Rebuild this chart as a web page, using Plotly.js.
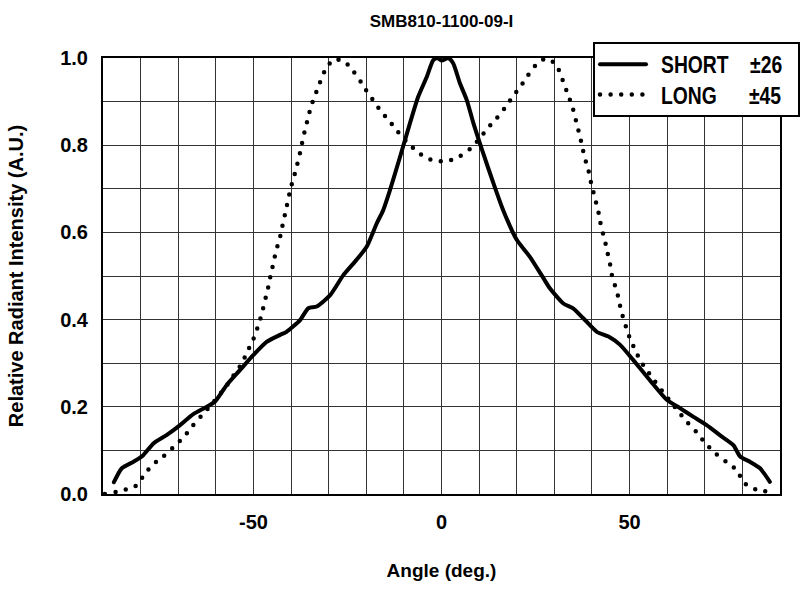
<!DOCTYPE html>
<html>
<head>
<meta charset="utf-8">
<script src="https://cdn.plot.ly/plotly-3.0.1.min.js"></script>
<style>html,body{margin:0;padding:0;background:#fff;}#chart{width:811px;height:592px;}</style>
</head>
<body>
<div id="chart"></div>
<script>
const chartTitle = "SMB810-1100-09-I";
const xTitle = "Angle (deg.)";
const yTitle = "Relative Radiant Intensity (A.U.)";
const seriesNames = ["SHORT\u00a0\u00a0\u00a0\u00a0\u00b126", "LONG\u00a0\u00a0\u00a0\u00a0\u00a0\u00a0\u00b145"];

const shortAngle = [-87.1,-85.0,-81.9,-79.3,-76.6,-73.1,-69.5,-66.0,-62.4,-60.2,-57.1,-53.6,-50.0,-46.5,-42.9,-41.2,-37.6,-35.4,-33.2,-29.6,-26.1,-22.6,-19.9,-17.2,-15.5,-13.7,-11.0,-8.4,-6.2,-3.9,-2.2,-1.1,0,1.8,3.1,4.9,6.7,8.5,11.1,13.8,16.4,20.0,23.5,27.1,28.8,32.4,35.0,37.7,41.3,44.4,47.5,51.0,55.4,59.9,63.4,67.0,70.5,74.0,77.6,79.4,82.0,84.7,87.3];
const shortValue = [0.027,0.059,0.074,0.089,0.116,0.135,0.158,0.183,0.200,0.212,0.250,0.284,0.319,0.349,0.365,0.372,0.399,0.426,0.430,0.456,0.502,0.537,0.567,0.621,0.651,0.697,0.774,0.850,0.911,0.957,0.995,1.0,0.994,1.0,0.988,0.942,0.904,0.850,0.781,0.713,0.651,0.583,0.544,0.495,0.472,0.437,0.426,0.403,0.372,0.361,0.342,0.307,0.261,0.216,0.197,0.177,0.158,0.135,0.112,0.086,0.074,0.059,0.028];

const longAngle = [-89.5,-86.5,-83.7,-80.8,-79.1,-76.8,-74.0,-71.1,-68.5,-66.2,-63.8,-61.2,-59.0,-57.0,-54.9,-53.0,-51.8,-50.3,-49.3,-48.4,-47.6,-46.9,-46.2,-45.6,-45.0,-44.4,-43.7,-42.9,-42.3,-41.7,-41.1,-40.5,-39.8,-39.0,-38.3,-37.6,-37.0,-36.4,-35.7,-35.0,-34.1,-33.0,-32.0,-30.7,-28.6,-25.8,-23.4,-21.5,-20.1,-18.1,-16.1,-13.9,-11.6,-9.3,-6.3,-3.5,-0.8,2.1,4.9,7.8,10.2,12.4,14.8,17.0,18.9,21.1,22.9,24.9,27.7,30.4,31.7,32.7,33.7,34.8,35.5,36.2,36.9,37.5,38.2,39.0,39.6,40.3,41.0,41.7,42.2,42.9,43.6,44.2,44.8,45.3,46.1,46.9,47.5,48.2,49.1,50.1,51.4,52.8,54.6,56.5,58.6,60.8,63.0,65.4,67.9,70.2,72.9,75.8,78.7,80.1,82.7,85.6,88.4];
const longValue = [0,0.005,0.011,0.021,0.044,0.067,0.086,0.109,0.131,0.156,0.180,0.205,0.228,0.250,0.277,0.300,0.324,0.349,0.372,0.395,0.420,0.445,0.469,0.495,0.518,0.542,0.566,0.590,0.615,0.638,0.662,0.686,0.711,0.735,0.758,0.783,0.808,0.831,0.855,0.879,0.904,0.928,0.951,0.976,0.997,0.992,0.969,0.946,0.927,0.902,0.878,0.856,0.831,0.808,0.784,0.769,0.763,0.765,0.775,0.793,0.816,0.840,0.863,0.887,0.911,0.936,0.959,0.982,0.999,0.986,0.961,0.938,0.914,0.888,0.865,0.841,0.817,0.793,0.768,0.745,0.720,0.696,0.672,0.648,0.624,0.599,0.575,0.551,0.528,0.502,0.479,0.455,0.431,0.407,0.382,0.357,0.332,0.307,0.284,0.261,0.237,0.213,0.189,0.164,0.141,0.116,0.093,0.073,0.053,0.028,0.013,0.007,0.002];

const xTickVals = [-50, 0, 50];
const yTickVals = [0, 0.2, 0.4, 0.6, 0.8, 1.0];

const baseFont = "Liberation Sans, Arial, Helvetica, sans-serif";
const legendFont = "Liberation Sans, Arial, sans-serif";

const traces = [
  {x: shortAngle, y: shortValue, name: seriesNames[0], type: 'scatter', mode: 'lines',
   line: {color: '#000', width: 4, shape: 'spline', smoothing: 0.6}},
  {x: longAngle, y: longValue, name: seriesNames[1], type: 'scatter', mode: 'lines',
   line: {color: '#000', width: 4.5, dash: '0px,10.6px', shape: 'spline', smoothing: 0.6}}
];

const gridCol = '#333';
const layout = {
  width: 811, height: 592,
  margin: {l: 103, r: 31, t: 58, b: 98, autoexpand: false},
  paper_bgcolor: '#fff', plot_bgcolor: '#fff',
  showlegend: true,
  title: {text: chartTitle, x: 0.5, xref: 'paper', xanchor: 'center', y: 1 - 21/592, yref: 'container', yanchor: 'middle',
          font: {family: baseFont, size: 17, weight: 'bold', color: '#000'}},
  xaxis: {
    range: [-90, 90], tickmode: 'array', tickvals: xTickVals, ticktext: xTickVals.map(String),
    showgrid: true, gridcolor: gridCol, gridwidth: 1,
    minor: {dtick: 10, tick0: 0, showgrid: true, gridcolor: gridCol, gridwidth: 1},
    showline: true, linecolor: '#000', linewidth: 2, mirror: true,
    ticks: '', zeroline: false, ticklabelstandoff: 9,
    tickfont: {family: baseFont, size: 20, weight: 'bold', color: '#000'},
    title: {text: xTitle, standoff: 32, font: {family: baseFont, size: 19, weight: 'bold', color: '#000'}}
  },
  yaxis: {
    range: [0, 1], tickmode: 'array', tickvals: yTickVals, ticktext: yTickVals.map(v => v.toFixed(1)),
    showgrid: true, gridcolor: gridCol, gridwidth: 1,
    minor: {dtick: 0.1, tick0: 0, showgrid: true, gridcolor: gridCol, gridwidth: 1},
    showline: true, linecolor: '#000', linewidth: 2, mirror: true,
    ticks: '', zeroline: false, ticklabelstandoff: 9,
    tickfont: {family: baseFont, size: 20, weight: 'bold', color: '#000'},
    title: {text: yTitle, standoff: 31, font: {family: baseFont, size: 20, weight: 'bold', color: '#000'}}
  },
  legend: {
    x: (593 - 103) / 677, y: (494 - 42) / 436, xanchor: 'left', yanchor: 'top',
    bgcolor: '#fff', bordercolor: '#000', borderwidth: 2,
    font: {family: legendFont, size: 21, weight: 'bold', color: '#000'},
    tracegroupgap: 0, itemwidth: 56
  }
};

Plotly.newPlot('chart', traces, layout, {displayModeBar: false, staticPlot: true}).then(function(gd){
  gd.querySelectorAll('path.js-line').forEach(function(p){
    p.style.strokeLinecap = 'round';
  });
  gd.querySelectorAll('.legendlines path').forEach(function(p){
    p.setAttribute('d', 'M5,0h46');
    p.style.strokeLinecap = 'round';
  });
  gd.querySelectorAll('.legendtext').forEach(function(t){
    var x = parseFloat(t.getAttribute('x')) || 0;
    t.setAttribute('transform', 'translate(' + x + ',0) scale(0.92,1.12) translate(' + (-x) + ',0)');
  });
});
</script>
</body>
</html>
